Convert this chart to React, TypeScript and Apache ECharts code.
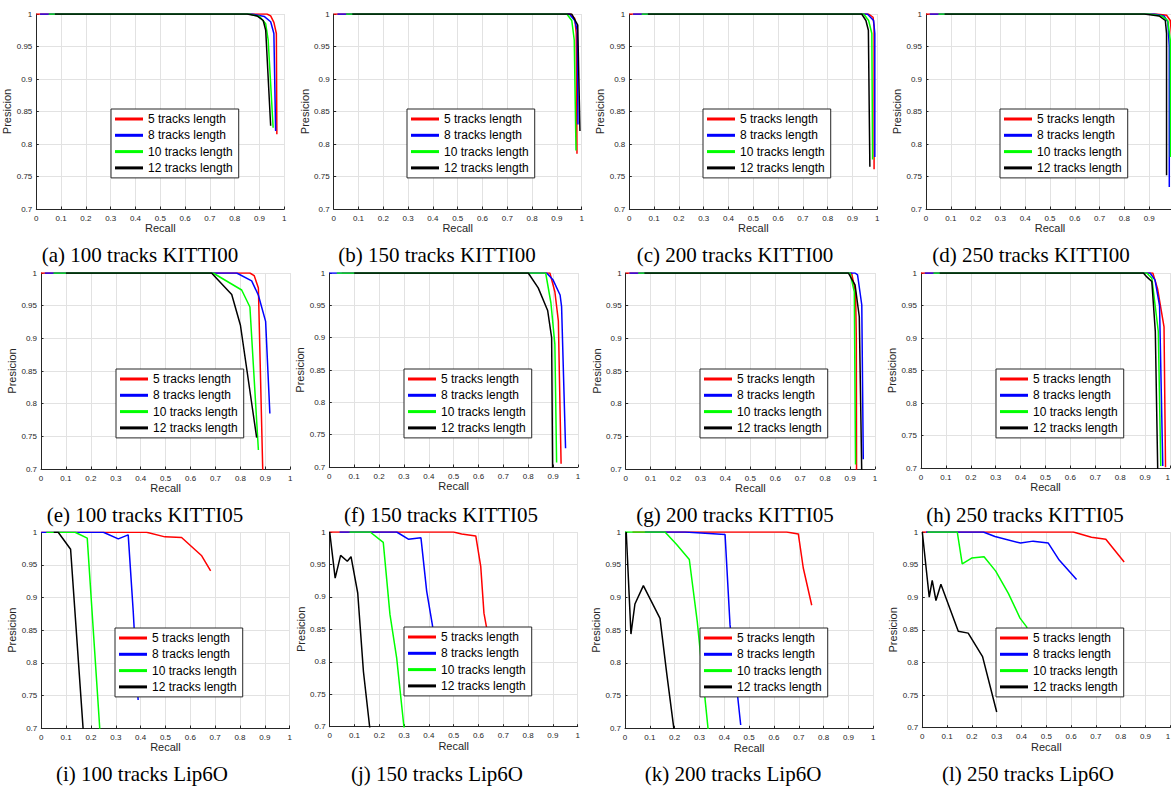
import React, { useEffect, useRef } from "react";
import * as echarts from "echarts";

type Pt = [number, number];

const LENGTHS = ["5 tracks length", "8 tracks length", "10 tracks length", "12 tracks length"];
const COLORS = ["#ff0000", "#0000ff", "#00ff00", "#000000"];
const CAPTIONS = [
  "(a) 100 tracks KITTI00", "(b) 150 tracks KITTI00", "(c) 200 tracks KITTI00", "(d) 250 tracks KITTI00",
  "(e) 100 tracks KITTI05", "(f) 150 tracks KITTI05", "(g) 200 tracks KITTI05", "(h) 250 tracks KITTI05",
  "(i) 100 tracks Lip6O", "(j) 150 tracks Lip6O", "(k) 200 tracks Lip6O", "(l) 250 tracks Lip6O",
];
const X_TICKS = [0, 0.1, 0.2, 0.3, 0.4, 0.5, 0.6, 0.7, 0.8, 0.9, 1];
const Y_TICKS = [0.7, 0.75, 0.8, 0.85, 0.9, 0.95, 1];

// (a) 100 tracks KITTI00
const A_L5: Pt[] = [[0, 1], [0.93, 1], [0.945, 0.997], [0.958, 0.987], [0.968, 0.97], [0.97, 0.815]];
const A_L8: Pt[] = [[0.015, 1], [0.87, 1], [0.92, 0.996], [0.945, 0.988], [0.958, 0.97], [0.965, 0.82]];
const A_L10: Pt[] = [[0.05, 1], [0.86, 1], [0.9, 0.996], [0.925, 0.985], [0.935, 0.96], [0.955, 0.825]];
const A_L12: Pt[] = [[0.075, 1], [0.85, 1], [0.89, 0.997], [0.915, 0.99], [0.925, 0.975], [0.945, 0.828]];
// (b) 150 tracks KITTI00
const B_L5: Pt[] = [[0, 1], [0.955, 1], [0.972, 0.993], [0.978, 0.97], [0.981, 0.785]];
const B_L8: Pt[] = [[0.015, 1], [0.95, 1], [0.972, 0.99], [0.982, 0.975], [0.985, 0.83]];
const B_L10: Pt[] = [[0.05, 1], [0.94, 1], [0.96, 0.99], [0.97, 0.96], [0.977, 0.79]];
const B_L12: Pt[] = [[0.075, 1], [0.96, 1], [0.984, 0.983], [0.993, 0.82]];
// (c) 200 tracks KITTI00
const C_L5: Pt[] = [[0, 1], [0.965, 1], [0.983, 0.995], [0.987, 0.98], [0.987, 0.761]];
const C_L8: Pt[] = [[0.015, 1], [0.96, 1], [0.985, 0.99], [0.99, 0.97], [0.99, 0.78]];
const C_L10: Pt[] = [[0.05, 1], [0.945, 1], [0.965, 0.99], [0.978, 0.97], [0.981, 0.776]];
const C_L12: Pt[] = [[0.075, 1], [0.937, 1], [0.954, 0.99], [0.964, 0.975], [0.97, 0.765]];
// (d) 250 tracks KITTI00
const D_L5: Pt[] = [[0, 1], [0.93, 1], [0.97, 0.998], [0.985, 0.99], [0.992, 0.96], [0.994, 0.78]];
const D_L8: Pt[] = [[0.015, 1], [0.92, 1], [0.96, 0.997], [0.975, 0.988], [0.981, 0.95], [0.981, 0.734]];
const D_L10: Pt[] = [[0.05, 1], [0.9, 1], [0.95, 0.997], [0.975, 0.99], [0.985, 0.96], [0.986, 0.78]];
const D_L12: Pt[] = [[0.075, 1], [0.88, 1], [0.94, 0.997], [0.965, 0.99], [0.97, 0.97], [0.97, 0.752]];
// (e) 100 tracks KITTI05
const E_L5: Pt[] = [[0, 1], [0.838, 1], [0.855, 0.996], [0.872, 0.977], [0.89, 0.69]];
const E_L8: Pt[] = [[0.015, 1], [0.785, 1], [0.845, 0.988], [0.872, 0.966], [0.901, 0.926], [0.918, 0.785]];
const E_L10: Pt[] = [[0.05, 1], [0.69, 1], [0.805, 0.974], [0.838, 0.948], [0.872, 0.729]];
const E_L12: Pt[] = [[0.1, 1], [0.684, 1], [0.765, 0.967], [0.8, 0.92], [0.865, 0.748]];
// (f) 150 tracks KITTI05
const F_L5: Pt[] = [[0.05, 1], [0.887, 1], [0.907, 0.971], [0.921, 0.926], [0.932, 0.705]];
const F_L8: Pt[] = [[0, 1], [0.874, 1], [0.9, 0.989], [0.928, 0.966], [0.934, 0.948], [0.95, 0.729]];
const F_L10: Pt[] = [[0.03, 1], [0.87, 1], [0.891, 0.954], [0.907, 0.89], [0.914, 0.707]];
const F_L12: Pt[] = [[0.1, 1], [0.8, 1], [0.84, 0.977], [0.878, 0.942], [0.894, 0.9], [0.898, 0.69]];
// (g) 200 tracks KITTI05
const G_L5: Pt[] = [[0, 1], [0.906, 1], [0.922, 0.97], [0.925, 0.9], [0.926, 0.69]];
const G_L8: Pt[] = [[0.015, 1], [0.92, 1], [0.93, 0.997], [0.947, 0.951], [0.953, 0.715]];
const G_L10: Pt[] = [[0.05, 1], [0.9, 1], [0.917, 0.971], [0.922, 0.707]];
const G_L12: Pt[] = [[0.075, 1], [0.893, 1], [0.92, 0.982], [0.937, 0.933], [0.947, 0.69]];
// (h) 250 tracks KITTI05
const H_L5: Pt[] = [[0, 1], [0.931, 1], [0.95, 0.976], [0.976, 0.917], [0.982, 0.701]];
const H_L8: Pt[] = [[0.015, 1], [0.92, 1], [0.94, 0.989], [0.958, 0.95], [0.971, 0.703]];
const H_L10: Pt[] = [[0.05, 1], [0.907, 1], [0.927, 0.992], [0.953, 0.91], [0.963, 0.703]];
const H_L12: Pt[] = [[0.075, 1], [0.893, 1], [0.907, 0.994], [0.927, 0.987], [0.941, 0.91], [0.951, 0.69]];
// (i) 100 tracks Lip6O
const I_L5: Pt[] = [[0, 1], [0.424, 1], [0.498, 0.993], [0.565, 0.992], [0.646, 0.964], [0.682, 0.941]];
const I_L8: Pt[] = [[0, 1], [0.25, 1], [0.31, 0.99], [0.35, 0.996], [0.37, 0.88], [0.39, 0.743]];
const I_L10: Pt[] = [[0.02, 1], [0.136, 1], [0.185, 0.991], [0.237, 0.69]];
const I_L12: Pt[] = [[0.05, 1], [0.068, 1], [0.118, 0.974], [0.17, 0.69]];
// (j) 150 tracks Lip6O
const J_L5: Pt[] = [[0, 1], [0.499, 1], [0.532, 0.997], [0.589, 0.994], [0.609, 0.947], [0.622, 0.875], [0.633, 0.852], [0.66, 0.78]];
const J_L8: Pt[] = [[0.04, 1], [0.27, 1], [0.317, 0.989], [0.368, 0.991], [0.391, 0.909], [0.414, 0.857], [0.44, 0.78]];
const J_L10: Pt[] = [[0.08, 1], [0.163, 1], [0.216, 0.984], [0.243, 0.873], [0.27, 0.806], [0.302, 0.69]];
const J_L12: Pt[] = [[0, 1], [0.022, 0.929], [0.044, 0.964], [0.071, 0.955], [0.086, 0.962], [0.113, 0.906], [0.136, 0.785], [0.164, 0.69]];
// (k) 200 tracks Lip6O
const K_L5: Pt[] = [[0.03, 1], [0.651, 1], [0.698, 0.997], [0.718, 0.945], [0.752, 0.888]];
const K_L8: Pt[] = [[0.08, 1], [0.242, 1], [0.403, 0.996], [0.423, 0.858], [0.466, 0.705]];
const K_L10: Pt[] = [[0, 1], [0.161, 1], [0.208, 0.981], [0.259, 0.958], [0.291, 0.863], [0.322, 0.746], [0.337, 0.69]];
const K_L12: Pt[] = [[0.005, 1], [0.024, 0.844], [0.04, 0.89], [0.074, 0.918], [0.141, 0.868], [0.168, 0.784], [0.2, 0.69]];
// (l) 250 tracks Lip6O
const L_L5: Pt[] = [[0, 1], [0.609, 1], [0.682, 0.992], [0.74, 0.989], [0.814, 0.954]];
const L_L8: Pt[] = [[0.015, 1], [0.246, 1], [0.293, 0.993], [0.396, 0.983], [0.447, 0.986], [0.508, 0.983], [0.552, 0.957], [0.622, 0.927]];
const L_L10: Pt[] = [[0.02, 1], [0.141, 1], [0.161, 0.951], [0.199, 0.96], [0.249, 0.962], [0.296, 0.94], [0.347, 0.906], [0.394, 0.868], [0.42, 0.855], [0.47, 0.8]];
const L_L12: Pt[] = [[0, 1], [0.028, 0.9], [0.04, 0.926], [0.055, 0.895], [0.075, 0.92], [0.145, 0.848], [0.185, 0.845], [0.243, 0.809], [0.3, 0.724]];

const PANELS: Pt[][][] = [
  [A_L5, A_L8, A_L10, A_L12], [B_L5, B_L8, B_L10, B_L12], [C_L5, C_L8, C_L10, C_L12], [D_L5, D_L8, D_L10, D_L12],
  [E_L5, E_L8, E_L10, E_L12], [F_L5, F_L8, F_L10, F_L12], [G_L5, G_L8, G_L10, G_L12], [H_L5, H_L8, H_L10, H_L12],
  [I_L5, I_L8, I_L10, I_L12], [J_L5, J_L8, J_L10, J_L12], [K_L5, K_L8, K_L10, K_L12], [L_L5, L_L8, L_L10, L_L12],
];

// layout (px): plot area left, top, width, height
const GRIDS = [
  [36.3, 14, 248, 195], [333.7, 14, 248, 195], [629.3, 14, 248, 195], [926, 14, 248, 195],
  [41, 273, 249.3, 196], [329.3, 273, 248.7, 194], [625.7, 273, 249.3, 196], [921, 273, 249, 195],
  [41.3, 532.3, 248.3, 195.7], [329.7, 532, 248, 194.7], [625, 532, 248.3, 196.3], [922.3, 532, 248, 195.7],
];
// the panel whose last x tick label lies beyond the page edge (hidden in the reference)
const HIDDEN_MAX_LABEL = [3];
// panels on the right edge whose last x tick label is right-aligned to stay on the page
const RIGHT_ALIGNED_MAX_LABEL = [7, 11];
const LEGEND_POS = [
  [111, 109], [407, 109], [703, 109], [1000, 109],
  [116, 369], [404, 369], [700, 369], [996, 369],
  [115, 628], [404, 627], [700, 628], [996, 628],
];
const CAPTION_POS = [
  [140, 255], [437, 255], [735, 255], [1031, 255],
  [145, 515], [441, 515], [735, 515], [1025, 515],
  [142, 774], [437, 774], [733, 774], [1028, 774],
];

const SANS = "'Liberation Sans', Arial, sans-serif";
const AX = "#262626";

export default function App() {
  const ref = useRef<HTMLDivElement>(null);
  useEffect(() => {
    if (!ref.current) return;
    const chart = echarts.init(ref.current, undefined, { renderer: "svg" });
    const grid = GRIDS.map(([l, t, w, h]) => ({
      left: l, top: t, width: w, height: h, containLabel: false, outerBoundsMode: "none",
    }));
    const xAxis = GRIDS.map((_, i) => ({
      gridIndex: i, type: "value", min: X_TICKS[0], max: X_TICKS[X_TICKS.length - 1], interval: 0.1,
      name: "Recall", nameLocation: "middle", nameGap: 13,
      nameTextStyle: { fontSize: 11, color: AX, fontFamily: SANS },
      axisLine: { show: true, lineStyle: { color: AX, width: 1 } },
      axisTick: { show: true, inside: true, length: 2.5, lineStyle: { color: AX } },
      axisLabel: {
        fontSize: 8, color: AX, margin: 5, fontFamily: SANS,
        showMaxLabel: !HIDDEN_MAX_LABEL.includes(i),
        alignMaxLabel: RIGHT_ALIGNED_MAX_LABEL.includes(i) ? "right" : undefined,
        formatter: (v: number) => String(+v.toFixed(1)),
      },
      splitLine: { show: true, lineStyle: { color: "#e2e2e2", width: 1 } },
    }));
    const yAxis = GRIDS.map((_, i) => ({
      gridIndex: i, type: "value", min: Y_TICKS[0], max: Y_TICKS[Y_TICKS.length - 1], interval: 0.05,
      name: "Presicion", nameLocation: "middle", nameGap: 19,
      nameTextStyle: { fontSize: 11, color: AX, fontFamily: SANS },
      axisLine: { show: true, lineStyle: { color: AX, width: 1 } },
      axisTick: { show: true, inside: true, length: 2.5, lineStyle: { color: AX } },
      axisLabel: { fontSize: 8, color: AX, margin: 4, fontFamily: SANS, formatter: (v: number) => String(+v.toFixed(2)) },
      splitLine: { show: true, lineStyle: { color: "#e2e2e2", width: 1 } },
    }));
    const series: any[] = [];
    PANELS.forEach((curves, p) => {
      curves.forEach((data, j) => {
        series.push({
          type: "line", name: LENGTHS[j], xAxisIndex: p, yAxisIndex: p, data,
          showSymbol: false, symbol: "none", silent: true, clip: true,
          lineStyle: { color: COLORS[j], width: 1.5 },
          itemStyle: { color: COLORS[j] },
        });
      });
    });
    const legend = LEGEND_POS.map(([l, t]) => ({
      left: l, top: t, orient: "vertical", data: LENGTHS, selectedMode: false,
      icon: "rect", itemWidth: 28, itemHeight: 3, itemGap: 2.3,
      padding: [3, 6, 3, 4], borderColor: AX, borderWidth: 1, backgroundColor: "#fff",
      textStyle: { fontSize: 12, lineHeight: 14, color: "#000", fontFamily: SANS },
      z: 10,
    }));
    const graphic = CAPTION_POS.map(([x, y], i) => ({
      type: "text", x, y, silent: true,
      style: { text: CAPTIONS[i], fill: "#000", font: "21px 'Liberation Serif', 'Times New Roman', serif", textAlign: "center", textVerticalAlign: "middle" },
    }));
    chart.setOption({
      animation: false,
      backgroundColor: "#fff",
      grid, xAxis, yAxis, series, legend, graphic,
    } as any);
    return () => chart.dispose();
  }, []);
  return <div ref={ref} style={{ position: "fixed", left: 0, top: 0, width: 1171, height: 787 }} />;
}
